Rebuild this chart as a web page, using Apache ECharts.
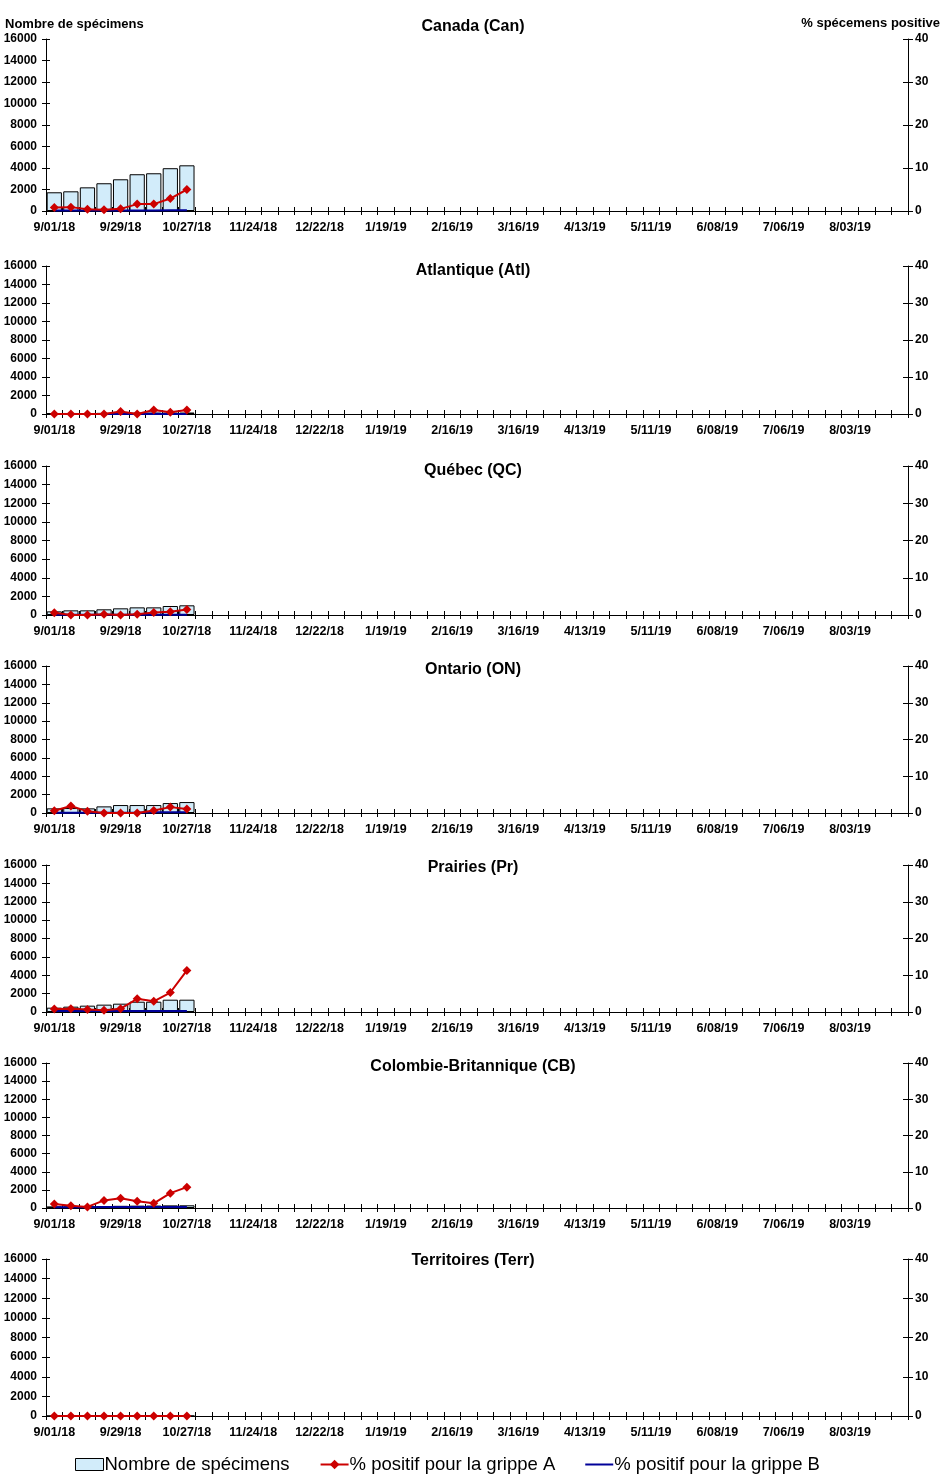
<!DOCTYPE html>
<html><head><meta charset="utf-8">
<script src="https://cdn.jsdelivr.net/npm/echarts@6/dist/echarts.min.js"></script>
<style>html,body{margin:0;padding:0;background:#fff}#c{width:946px;height:1476px}</style>
</head><body><div id="c"></div>
<script>
const weeks = ["9/01/18","9/08/18","9/15/18","9/22/18","9/29/18","10/06/18","10/13/18","10/20/18","10/27/18","11/03/18","11/10/18","11/17/18","11/24/18","12/01/18","12/08/18","12/15/18","12/22/18","12/29/18","1/05/19","1/12/19","1/19/19","1/26/19","2/02/19","2/09/19","2/16/19","2/23/19","3/02/19","3/09/19","3/16/19","3/23/19","3/30/19","4/06/19","4/13/19","4/20/19","4/27/19","5/04/19","5/11/19","5/18/19","5/25/19","6/01/19","6/08/19","6/15/19","6/22/19","6/29/19","7/06/19","7/13/19","7/20/19","7/27/19","8/03/19","8/10/19","8/17/19","8/24/19"];

const regionTitles = ["Canada (Can)","Atlantique (Atl)","Québec (QC)","Ontario (ON)","Prairies (Pr)","Colombie-Britannique (CB)","Territoires (Terr)"];

// Nombre de spécimens
const specCan  = [1740,1830,2200,2580,2950,3420,3510,3980,4250];
const specAtl  = [100,110,100,120,130,140,150,150,160];
const specQC   = [390,500,500,610,715,820,820,965,1040];
const specON   = [505,540,505,720,865,865,865,1080,1190];
const specPr   = [470,580,690,800,905,1120,1120,1340,1340];
const specCB   = [180,190,200,220,240,260,270,290,300];
const specTerr = [10,10,10,10,10,10,10,10,10];

// % positif pour la grippe A
const posACan  = [0.8,0.9,0.4,0.3,0.5,1.6,1.6,2.9,5.0];
const posAAtl  = [0,0,0,0,0.7,0,1.1,0.5,1.1];
const posAQC   = [0.6,0,0,0.2,0,0.2,0.7,0.9,1.5];
const posAON   = [0.6,1.9,0.45,0,0,0,0.7,1.6,1.1];
const posAPr   = [0.8,0.9,0.7,0.5,0.9,3.6,2.9,5.3,11.3];
const posACB   = [1.1,0.65,0.3,2.1,2.7,1.85,1.3,4.1,5.75];
const posATerr = [0,0,0,0,0,0,0,0,0];

// % positif pour la grippe B
const posBCan  = [0.1,0.1,0.1,0.1,0.1,0.1,0.1,0.15,0.2];
const posBAtl  = [0,0,0,0,0,0,0.1,0,0];
const posBQC   = [0.1,0.1,0.1,0.1,0.1,0.1,0.1,0.1,0.1];
const posBON   = [0.1,0.1,0.1,0.1,0.1,0.1,0.2,0.2,0.2];
const posBPr   = [0.3,0.3,0.3,0.3,0.3,0.3,0.3,0.3,0.3];
const posBCB   = [0.2,0.2,0.2,0.3,0.3,0.3,0.3,0.3,0.3];
const posBTerr = [0,0,0,0,0,0,0,0,0];

const specAll = [specCan,specAtl,specQC,specON,specPr,specCB,specTerr];
const posAAll = [posACan,posAAtl,posAQC,posAON,posAPr,posACB,posATerr];
const posBAll = [posBCan,posBAtl,posBQC,posBON,posBPr,posBCB,posBTerr];

const panelTops = [39,266,466,666,865,1063,1259];
const panelHeights = [172,148,149,147,147,145,157];
const titleY = [26,270,470,669,867,1066,1260];

const FONT = "'Liberation Sans', Arial, sans-serif";
const axisLine = {show:true, lineStyle:{color:'#000', width:1}};
const plain = v => String(v);

const grids=[], xAxes=[], yAxes=[], series=[], graphics=[];
for (let i=0;i<7;i++){
  grids.push({left:46, right:38, top:panelTops[i], height:panelHeights[i]});
  xAxes.push({type:'category', gridIndex:i, data:weeks, boundaryGap:true, position:'bottom',
    axisLine:axisLine, axisTick:{show:true, interval:0, length:4, lineStyle:{color:'#000'}},
    axisLabel:{interval:3, margin:10, color:'#000', fontFamily:FONT, fontWeight:'bold', fontSize:12.5},
    splitLine:{show:false}});
  xAxes.push({type:'category', gridIndex:i, data:weeks, boundaryGap:true, position:'bottom',
    axisLine:{show:false}, axisTick:{show:true, inside:true, interval:0, length:4, lineStyle:{color:'#000'}},
    axisLabel:{show:false}, splitLine:{show:false}});
  yAxes.push({type:'value', gridIndex:i, position:'left', min:0, max:16000, interval:2000,
    axisLine:axisLine, axisTick:{show:true, length:4, lineStyle:{color:'#000'}},
    axisLabel:{margin:9, color:'#000', fontFamily:FONT, fontWeight:'bold', fontSize:12, formatter:plain},
    splitLine:{show:false}});
  yAxes.push({type:'value', gridIndex:i, position:'left', min:0, max:16000, interval:2000,
    axisLine:{show:false}, axisTick:{show:true, inside:true, length:4, lineStyle:{color:'#000'}},
    axisLabel:{show:false}, splitLine:{show:false}});
  yAxes.push({type:'value', gridIndex:i, position:'right', min:0, max:40, interval:10,
    axisLine:axisLine, axisTick:{show:true, length:5, lineStyle:{color:'#000'}},
    axisLabel:{margin:7, color:'#000', fontFamily:FONT, fontWeight:'bold', fontSize:12, formatter:plain},
    splitLine:{show:false}});
  yAxes.push({type:'value', gridIndex:i, position:'right', min:0, max:40, interval:10,
    axisLine:{show:false}, axisTick:{show:true, inside:true, length:5, lineStyle:{color:'#000'}},
    axisLabel:{show:false}, splitLine:{show:false}});
  const xi = i*2, yl = i*4, yr = i*4+2;
  series.push({name:'Nombre de spécimens', type:'bar', xAxisIndex:xi, yAxisIndex:yl, data:specAll[i],
    barCategoryGap:'8%', itemStyle:{color:'#d2ecfa', borderColor:'#000', borderWidth:1}, z:1, silent:true});
  series.push({name:'% positif pour la grippe B', type:'line', xAxisIndex:xi, yAxisIndex:yr, data:posBAll[i],
    symbol:'none', lineStyle:{color:'#000099', width:2}, itemStyle:{color:'#000099'}, z:3, silent:true});
  series.push({name:'% positif pour la grippe A', type:'line', xAxisIndex:xi, yAxisIndex:yr, data:posAAll[i],
    symbol:'diamond', symbolSize:9, lineStyle:{color:'#cc0000', width:2}, itemStyle:{color:'#cc0000'}, z:4, silent:true});
  graphics.push({type:'text', left:'center', top:titleY[i]-7, style:{text:regionTitles[i], fill:'#000',
    font:"bold 16px "+FONT}});
}
graphics.push({type:'text', left:5, top:18, style:{text:'Nombre de spécimens', fill:'#000', font:"bold 13px "+FONT}});
graphics.push({type:'text', right:6, top:17, style:{text:'% spécemens positive', fill:'#000', font:"bold 13px "+FONT}});

const chart = echarts.init(document.getElementById('c'), null, {renderer:'canvas'});
chart.setOption({
  animation:false,
  backgroundColor:'#fff',
  grid:grids, xAxis:xAxes, yAxis:yAxes, series:series, graphic:graphics,
  legend:{left:75, top:1455, padding:0, itemWidth:28, itemHeight:12, itemGap:30,
    data:[{name:'Nombre de spécimens', icon:'rect', itemStyle:{color:'#d2ecfa', borderColor:'#000', borderWidth:1}},
          {name:'% positif pour la grippe A'},
          {name:'% positif pour la grippe B', icon:'path://M0,0 L28,0 L28,2 L0,2 Z', itemStyle:{color:'#000099'}}],
    textStyle:{fontFamily:FONT, fontSize:18.5, color:'#000', padding:[0,0,0,-4]}}
});
</script></body></html>
